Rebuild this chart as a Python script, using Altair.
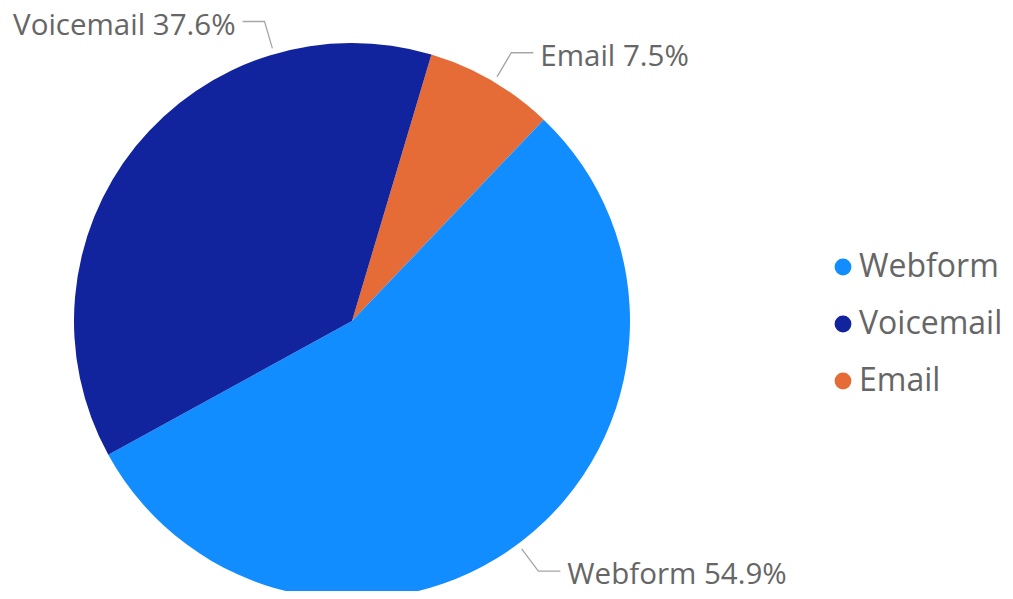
import math
import altair as alt
import pandas as pd

# ---- data ----
categories = ["Email", "Webform", "Voicemail"]          # clockwise drawing order
values = [7.5, 54.9, 37.6]                               # percent
legend_order = ["Webform", "Voicemail", "Email"]
legend_colors = ["#118DFF", "#12239E", "#E66C37"]

# ---- layout ----
W, H = 997, 583
CX, CY, R = 344, 313, 278
START_DEG = 16.6
label_shift_deg = {"Email": 0.6, "Webform": 0.9, "Voicemail": 34.8}
FONT = "Open Sans"
TEXT_COLOR = "#666666"

total = sum(values)
pie_df = pd.DataFrame({"category": categories, "value": values,
                       "ord": list(range(len(categories)))})

# leader lines / labels derived from the values
line_rows, text_rows = [], []
cum = 0.0
for cat, v in zip(categories, values):
    mid = START_DEG + (cum + v / 2) / total * 360 + label_shift_deg[cat]
    cum += v
    a = math.radians(mid)
    s, c = math.sin(a), math.cos(a)
    side = 1 if s >= 0 else -1
    ax, ay = CX + (R + 6) * s, CY - (R + 6) * c
    ex, ey = CX + (R + 34) * s, CY - (R + 34) * c
    hx = ex + 22 * side
    for i, (px, py) in enumerate([(ax, ay), (ex, ey), (hx, ey)]):
        line_rows.append({"category": cat, "pt": i, "x": px, "y": py})
    text_rows.append({"category": cat, "label": f"{cat} {v}%",
                      "x": hx + 7 * side, "y": ey + 4,
                      "side": "right" if side > 0 else "left"})
line_df = pd.DataFrame(line_rows)
text_df = pd.DataFrame(text_rows)

start = math.radians(START_DEG)
pie = alt.Chart(pie_df).mark_arc(outerRadius=R, stroke=None).encode(
    theta=alt.Theta("value:Q", stack=True,
                    scale=alt.Scale(range=[start, start + 2 * math.pi])),
    order=alt.Order("ord:Q"),
    color=alt.Color("category:N",
                    scale=alt.Scale(domain=legend_order, range=legend_colors),
                    legend=alt.Legend(title=None, orient="none",
                                      legendX=819, legendY=243,
                                      symbolType="circle", symbolSize=283,
                                      symbolStrokeWidth=0,
                                      labelFont=FONT, labelFontSize=32,
                                      labelColor=TEXT_COLOR, labelOffset=0,
                                      rowPadding=25, padding=0)),
    x=alt.value(CX), y=alt.value(CY),
)

leaders = alt.Chart(line_df).mark_line(color="#A6A6A6", strokeWidth=1.3).encode(
    x=alt.X("x:Q", scale=None), y=alt.Y("y:Q", scale=None),
    detail="category:N", order="pt:Q",
)

labels_right = alt.Chart(text_df).transform_filter(
    alt.datum.side == "right").mark_text(
    align="left", baseline="middle", font=FONT, fontSize=29.5,
    color=TEXT_COLOR).encode(
    x=alt.X("x:Q", scale=None), y=alt.Y("y:Q", scale=None), text="label:N")

labels_left = alt.Chart(text_df).transform_filter(
    alt.datum.side == "left").mark_text(
    align="right", baseline="middle", font=FONT, fontSize=29.5,
    color=TEXT_COLOR).encode(
    x=alt.X("x:Q", scale=None), y=alt.Y("y:Q", scale=None), text="label:N")

chart = alt.layer(pie, leaders, labels_right, labels_left).properties(
    width=W, height=H, autosize=alt.AutoSizeParams(type="none"), padding=0
).configure_view(stroke=None)

chart.save("out.html", embed_options={"renderer": "svg", "actions": False})
